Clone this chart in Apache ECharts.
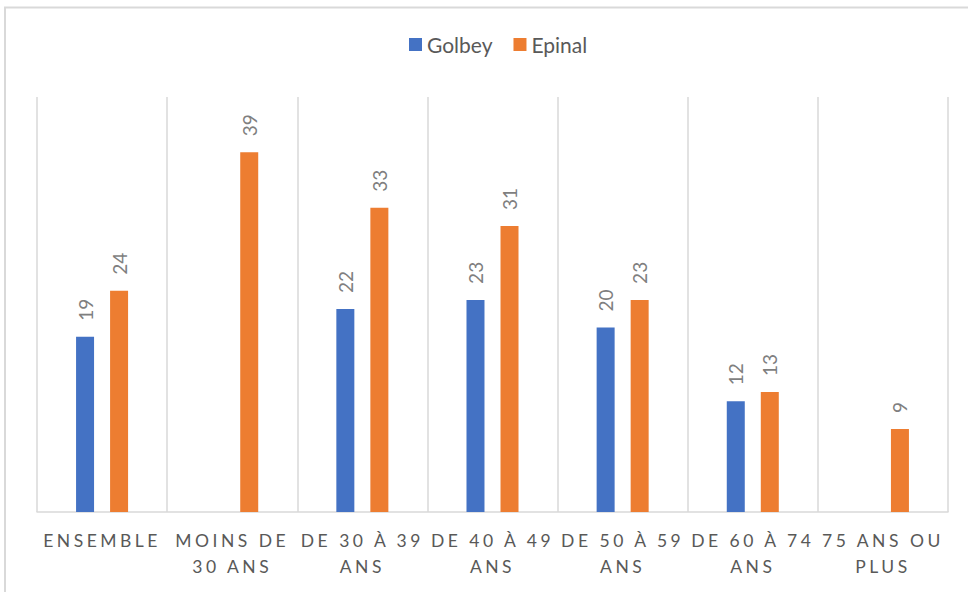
<!DOCTYPE html>
<html>
<head>
<meta charset="utf-8">
<script src="https://cdn.jsdelivr.net/npm/echarts@6/dist/echarts.min.js"></script>
<style>
  html, body { margin: 0; padding: 0; background: #fff; }
  #chart { width: 968px; height: 592px; }
  /* axis labels get the spaced-out capitals of the original */
  #chart text[fill="#595958"], #chart text[style*="#595958"] { letter-spacing: 3.5px; }
</style>
</head>
<body>
<div id="chart"></div>
<script>
const categories = [
  "ENSEMBLE",
  "MOINS DE\n30 ANS",
  "DE 30 À 39\nANS",
  "DE 40 À 49\nANS",
  "DE 50 À 59\nANS",
  "DE 60 À 74\nANS",
  "75 ANS OU\nPLUS"
];
const golbey = [19, null, 22, 23, 20, 12, null];
const epinal = [24, 39, 33, 31, 23, 13, 9];

const chart = echarts.init(document.getElementById("chart"), null, { renderer: "svg" });

const barLabel = {
  show: true,
  position: "top",
  rotate: 90,
  align: "left",
  verticalAlign: "middle",
  distance: 16,
  color: "#7f7f7f",
  fontSize: 19,
  fontFamily: "Lato"
};

const option = {
  animation: false,
  graphic: [
    {
      type: "rect",
      shape: { x: 5, y: 7.5, width: 1000, height: 700 },
      style: { fill: "none", stroke: "#d9d9d9", lineWidth: 2 }
    }
  ],
  legend: {
    data: ["Golbey", "Epinal"],
    left: 404,
    top: 29,
    itemWidth: 13,
    itemHeight: 13,
    itemGap: 21,
    icon: "rect",
    textStyle: { color: "#595959", fontSize: 21, fontFamily: "Lato" }
  },
  grid: { left: 37, right: 20, top: 97, bottom: 80 },
  xAxis: {
    type: "category",
    data: categories,
    axisLine: { lineStyle: { color: "#d9d9d9", width: 1.5 } },
    axisTick: { show: false },
    splitLine: { show: true, lineStyle: { color: "#d9d9d9", width: 1.5 } },
    axisLabel: {
      interval: 0,
      color: "#595958",
      fontSize: 17.5,
      fontFamily: "Lato",
      lineHeight: 26,
      margin: 15
    }
  },
  yAxis: {
    type: "value",
    min: 0,
    max: 45,
    show: false,
    splitLine: { show: false }
  },
  series: [
    {
      name: "Golbey",
      type: "bar",
      data: golbey,
      barWidth: 18,
      barGap: "89%",
      itemStyle: { color: "#4472c4" },
      label: barLabel
    },
    {
      name: "Epinal",
      type: "bar",
      data: epinal,
      barWidth: 18,
      itemStyle: { color: "#ed7d31" },
      label: barLabel
    }
  ]
};

chart.setOption(option);
</script>
</body>
</html>
